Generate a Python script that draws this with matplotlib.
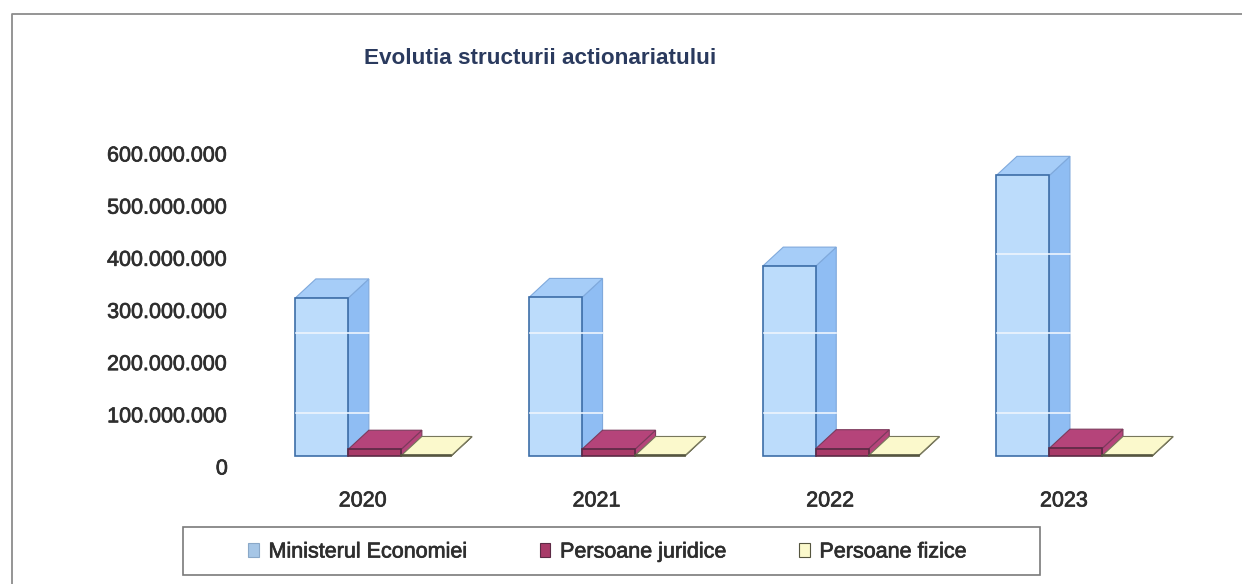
import matplotlib
matplotlib.use('Agg')
import matplotlib.pyplot as plt
import matplotlib.patheffects as pe
from matplotlib.lines import Line2D
from matplotlib.patches import Patch, Polygon, Rectangle

plt.rcParams['font.family'] = ['Liberation Sans', 'DejaVu Sans']

years = ['2020', '2021', '2022', '2023']
ministerul = [303000000, 304000000, 364000000, 538000000]
juridice = [13000000, 13000000, 14000000, 15000000]
fizice = [1000000, 1000000, 1000000, 1000000]
y_ticks = [0, 100000000, 200000000, 300000000, 400000000, 500000000, 600000000]
stripes = [82000000, 235000000, 388000000]  # pale bands that run across the blue bars

series = [
    ('Ministerul Economiei', ministerul, '#bcdcfb', '#8fbdf3', '#a6cdf8', '#3d6ea8', '#7fa9dc'),
    ('Persoane juridice', juridice, '#a83a68', '#b5447a', '#b5447a', '#5c2a45', '#7c3a5c'),
    ('Persoane fizice', fizice, '#fbf9cc', '#fbf9cc', '#fbf9cc', '#55553f', '#77775c'),
]

W, H = 1242, 584
fig = plt.figure(figsize=(W / 100, H / 100), dpi=100, facecolor='white')

# the scan makes all text look a bit heavier than regular
heavy = [pe.withStroke(linewidth=0.5, foreground='#2e2e2e')]


def fx(px):
    return px / W


def fy(px):
    return 1 - px / H


# frame of the whole chart, it runs off the scan at right and bottom
fig.add_artist(Line2D([fx(12), fx(12), fx(1242)], [fy(584), fy(14), fy(14)], color='#8c8c8c', lw=1.3))

# axes: 0 sits on the front base line of the bars
step = 233.7
ax_left, ax_bottom, ax_top = 258, 456, 143
ax = fig.add_axes([fx(ax_left), fy(ax_bottom), 4 * step / W, (ax_bottom - ax_top) / H])
ax.set_xlim(-0.5, 3.5)
ax.set_ylim(0, 600000000)
ax.axis('off')

bar_w = 53 / step
dx = 20.5 / step
dy = 19 / ((ax_bottom - ax_top) / 600000000)

for s, (name, values, front, side, top, edge, back_edge) in enumerate(series):
    for i, v in enumerate(values):
        x0 = i - 1.5 * bar_w + s * bar_w
        x1 = x0 + bar_w
        if s == 2:
            x1 -= 3 / step
        ax.add_patch(Polygon([(x1, 0), (x1 + dx, dy), (x1 + dx, v + dy), (x1, v)],
                             fc=side, ec=back_edge, lw=0.8, clip_on=False, zorder=2 + s))
        ax.add_patch(Polygon([(x0, v), (x0 + dx, v + dy), (x1 + dx, v + dy), (x1, v)],
                             fc=top, ec=back_edge, lw=0.8, clip_on=False, zorder=2 + s))
        ax.bar(x0, v, x1 - x0, align='edge', color=front, edgecolor=edge, lw=1.2, zorder=3 + s, clip_on=False)
        for st in stripes:
            if v > st:
                ax.plot([x0 + 0.004, x1 + dx], [st, st], color='#eef5fd', lw=1.2, zorder=7)

for v in y_ticks:
    label = f'{v:,}'.replace(',', '.')
    ax.annotate(label, (0, v), xycoords=ax.get_yaxis_transform(), xytext=(-30, -13), textcoords='offset pixels',
                ha='right', va='center', fontsize=15.5, color='#2e2e2e', path_effects=heavy)

for i, year in enumerate(years):
    ax.annotate(year, (i, 0), xytext=(-12, -45), textcoords='offset pixels',
                ha='center', va='center', fontsize=15.5, color='#2e2e2e', path_effects=heavy)

fig.text(fx(540.5), fy(58), 'Evolutia structurii actionariatului', ha='center', va='center',
         fontsize=16.2, fontweight='bold', color='#2a3a5e')

# legend box
fig.add_artist(Rectangle((fx(183), fy(575)), 857 / W, 48 / H, transform=fig.transFigure,
                         fc='white', ec='#7a7a7a', lw=1.2))
handles = [Patch(fc=c, ec=e, lw=0.8, label=n) for n, _, c, _, _, e, _ in series]
handles[0] = Patch(fc='#a6c6e6', ec='#8aa8c8', lw=0.8, label=series[0][0])
leg = fig.legend(handles=handles, ncol=3, frameon=False, fontsize=15.5, loc='center',
                 bbox_to_anchor=(fx(607), fy(552)), handlelength=0.5, handleheight=0.6,
                 handletextpad=0.45, columnspacing=3.4, labelcolor='#2e2e2e')
for t in leg.get_texts():
    t.set_path_effects(heavy)

fig.savefig('out.png', dpi=100)
